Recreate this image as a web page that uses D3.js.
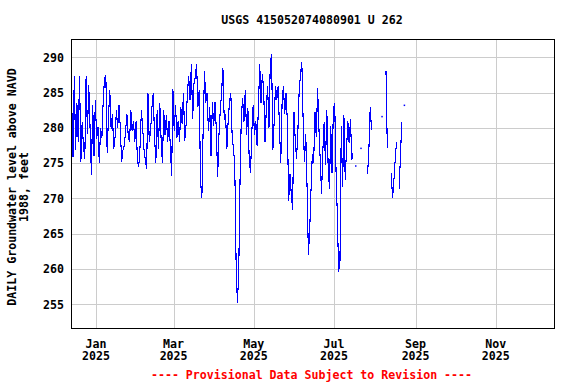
<!DOCTYPE html>
<html>
<head>
<meta charset="utf-8">
<script src="https://cdn.jsdelivr.net/npm/d3@7"></script>
<style>
  body { margin: 0; background: #fff; }
  svg text { font-family: "DejaVu Sans Mono", "Liberation Mono", monospace; font-weight: bold; font-size: 11.6px; }
</style>
</head>
<body>
<svg width="576" height="384"></svg>
<script>
// DATA (daily groundwater level, ft above NAVD 1988; null = no value that day)

const FIRST_DAY = new Date(2024, 11, 13);
const LAST_DAY = new Date(2025, 11, 16);

// Dec 13 2024 - Feb 13 2025
const levelsDecFeb = [
  283.9, 275.9, 287.3, 276.8, 283.5, 278.0, 287.4, 275.2, 280.9, 277.3,
  275.6, 287.3, 279.2, 286.1, 280.0, 273.3, 283.2, 276.0, 283.9, 278.5,
  280.1, 275.0, 280.0, 278.6, 284.0, 287.0, 287.5, 276.5, 281.5, 285.4,
  279.9, 282.0, 277.0, 278.7, 282.5, 280.0, 283.3, 280.0, 275.2, 276.8,
  277.5, 279.5, 282.0, 279.0, 278.0, 282.5, 279.5, 281.0, 278.0, 281.0,
  275.4, 274.5, 277.3, 282.5, 280.0, 277.0, 275.4, 274.2, 284.9, 278.0,
  279.5, 282.8, 284.9
];

// Feb 14 - Apr 18
const levelsFebApr = [
  279.0, 275.0, 282.5, 277.0, 283.5, 278.5, 275.0, 282.5, 279.0, 281.8,
  278.0, 281.0, 277.5, 273.2, 285.5, 279.5, 283.3, 278.6, 281.0, 278.0,
  283.0, 280.5, 285.0, 278.2, 280.5, 285.0, 287.3, 284.0, 289.0, 281.2,
  286.3, 287.2, 289.1, 283.0, 285.3, 272.5, 270.0, 280.0, 288.0, 283.6,
  285.0, 279.5, 283.0, 276.0, 283.6, 280.3, 283.6, 279.8, 273.0, 279.0,
  282.5, 285.0, 288.5, 281.2, 282.0, 277.0, 281.0, 283.6, 285.0, 279.0,
  277.0, 275.0, 261.3, 255.2
];

// Apr 19 - Jun 22
const levelsAprJun = [
  259.2, 272.4, 281.6, 284.2, 280.9, 285.4, 279.0, 282.8, 275.5, 273.6,
  279.5, 283.2, 279.0, 281.0, 277.5, 283.0, 289.1, 283.5, 287.7, 285.5,
  278.0, 282.7, 286.0, 280.0, 288.9, 290.5, 276.9, 281.0, 286.0, 284.0,
  286.0, 280.0, 275.0, 283.5, 286.0, 282.0, 285.0, 281.0, 269.6, 273.5,
  270.5, 268.4, 282.3, 278.3, 275.6, 279.5, 285.4, 287.5, 289.4, 281.1,
  275.2, 279.2, 271.5, 262.0, 265.5, 271.2, 276.3, 275.0, 282.3, 278.7,
  285.6, 280.0, 275.4, 270.7, 276.9
];

// Jun 23 - Aug 23
const levelsJunAug = [
  280.9, 274.7, 282.5, 274.7, 271.4, 280.2, 273.6, 282.8, 283.5, 274.0,
  267.6, 259.6, 261.0, 280.2, 271.6, 281.8, 272.6, 277.0, 281.0, 277.8,
  281.2, 275.5, 276.5, null, 274.6, null, null, null, 277.1, null,
  null, null, null, 273.5, 277.0, 283.0, 279.7, null, null, null,
  null, null, null, null, 281.6, null, null, 288.0, 277.1, null,
  null, 273.6, 270.0, 272.5, 275.5, 278.0, null, 271.4, 276.0, 280.9,
  null, 283.2
];

const yTicks = [255, 260, 265, 270, 275, 280, 285, 290];
const xTicks = [
  new Date(2025, 0, 1), new Date(2025, 2, 1), new Date(2025, 4, 1),
  new Date(2025, 6, 1), new Date(2025, 8, 1), new Date(2025, 10, 1)
];

const TITLE = "USGS 415052074080901 U 262";
const Y_LABEL = ["DAILY Groundwater level above NAVD", "1988, feet"];
const FOOTNOTE = "---- Provisional Data Subject to Revision ----";

// LAYOUT

const MARGINS = { top: 39, right: 21, bottom: 55, left: 71 };
const WIDTH = 576, HEIGHT = 384;
const PLOT_W = WIDTH - MARGINS.left - MARGINS.right;
const PLOT_H = HEIGHT - MARGINS.top - MARGINS.bottom;
const LINE_COLOR = "#0000ff";
const GRID_COLOR = "#cccccc";

const levels = [].concat(levelsDecFeb, levelsFebApr, levelsAprJun, levelsJunAug);
// daily means are plotted at midday
const series = levels.map((v, i) => ({
  date: d3.timeHour.offset(d3.timeDay.offset(FIRST_DAY, i), 12),
  value: v
}));

const xScale = d3.scaleTime()
  .domain([FIRST_DAY, LAST_DAY])
  .range([MARGINS.left, MARGINS.left + PLOT_W]);
const yScale = d3.scaleLinear()
  .domain([251.5, 292.6])
  .range([MARGINS.top + PLOT_H, MARGINS.top]);

const svg = d3.select("svg");

svg.append("defs").append("clipPath").attr("id", "plot-clip")
  .append("rect")
  .attr("x", MARGINS.left).attr("y", MARGINS.top)
  .attr("width", PLOT_W).attr("height", PLOT_H);

// grid
svg.append("g").selectAll("line")
  .data(yTicks)
  .join("line")
  .attr("x1", MARGINS.left).attr("x2", MARGINS.left + PLOT_W)
  .attr("y1", d => Math.round(yScale(d)) + 0.5)
  .attr("y2", d => Math.round(yScale(d)) + 0.5)
  .style("stroke", GRID_COLOR).style("stroke-width", 1);

svg.append("g").selectAll("line")
  .data(xTicks)
  .join("line")
  .attr("x1", d => Math.round(xScale(d)) + 0.5)
  .attr("x2", d => Math.round(xScale(d)) + 0.5)
  .attr("y1", MARGINS.top).attr("y2", MARGINS.top + PLOT_H)
  .style("stroke", GRID_COLOR).style("stroke-width", 1);

// data line
const line = d3.line()
  .defined(d => d.value != null)
  .x(d => xScale(d.date))
  .y(d => yScale(d.value));

svg.append("path")
  .datum(series)
  .attr("clip-path", "url(#plot-clip)")
  .attr("d", line)
  .attr("fill", "none")
  .attr("stroke", LINE_COLOR)
  .attr("stroke-width", 1.1)
  .attr("shape-rendering", "crispEdges");

// single days with no neighbours get a dot
const isolated = series.filter((d, i) =>
  d.value != null &&
  (i === 0 || series[i - 1].value == null) &&
  (i === series.length - 1 || series[i + 1].value == null));

svg.append("g").selectAll("rect")
  .data(isolated)
  .join("rect")
  .attr("x", d => xScale(d.date) - 0.75)
  .attr("y", d => yScale(d.value) - 0.75)
  .attr("width", 1.5).attr("height", 1.5)
  .attr("fill", LINE_COLOR);

// frame
svg.append("rect")
  .attr("x", MARGINS.left + 0.5).attr("y", MARGINS.top + 0.5)
  .attr("width", PLOT_W - 1).attr("height", PLOT_H - 1)
  .attr("fill", "none")
  .attr("stroke", "#000").attr("stroke-width", 1);

// y tick labels
svg.append("g").selectAll("text")
  .data(yTicks)
  .join("text")
  .attr("x", MARGINS.left - 7)
  .attr("y", d => yScale(d))
  .attr("dy", "0.37em")
  .attr("text-anchor", "end")
  .text(d => d);

// x tick labels (month over year)
const monthFmt = d3.timeFormat("%b"), yearFmt = d3.timeFormat("%Y");
const xLabels = svg.append("g").selectAll("text")
  .data(xTicks)
  .join("text")
  .attr("text-anchor", "middle");
xLabels.append("tspan")
  .attr("x", d => xScale(d)).attr("y", 347.5)
  .text(d => monthFmt(d));
xLabels.append("tspan")
  .attr("x", d => xScale(d)).attr("y", 360)
  .text(d => yearFmt(d));

// title
svg.append("text")
  .attr("x", MARGINS.left + PLOT_W / 2 - 1)
  .attr("y", 24)
  .attr("text-anchor", "middle")
  .text(TITLE);

// y axis label
svg.append("g")
  .attr("transform", "translate(15.5,187) rotate(-90)")
  .selectAll("text")
  .data(Y_LABEL)
  .join("text")
  .attr("x", 0)
  .attr("y", (d, i) => i * 12.5)
  .attr("text-anchor", "middle")
  .text(d => d);

// provisional note
svg.append("text")
  .attr("x", MARGINS.left + PLOT_W / 2 - 1.5)
  .attr("y", 378.5)
  .attr("text-anchor", "middle")
  .style("fill", "#ff0000")
  .text(FOOTNOTE);
</script>
</body>
</html>
